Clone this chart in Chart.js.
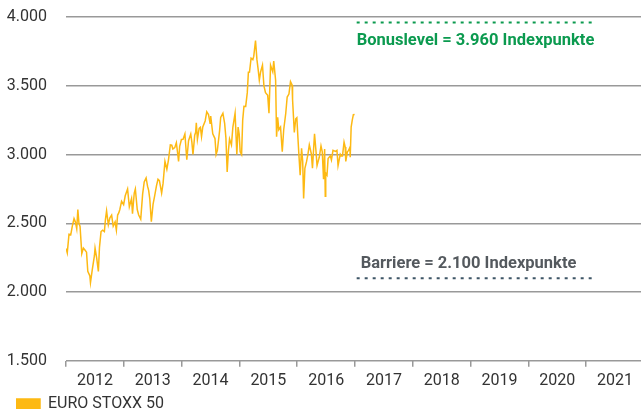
<!DOCTYPE html>
<html>
<head>
<meta charset="utf-8">
<script src="https://cdn.jsdelivr.net/npm/chart.js@4.4.1/dist/chart.umd.min.js"></script>
<style>
  html, body { margin: 0; padding: 0; background: #fff; }
  canvas { display: block; }
</style>
</head>
<body>
<canvas id="chart" width="641" height="409"></canvas>
<script>
// EURO STOXX 50, Schlusskurse 2012-2016
const dates = [
  "2012-01-02","2012-01-09","2012-01-20","2012-01-31","2012-02-10","2012-02-21","2012-02-29",
  "2012-03-09","2012-03-16","2012-03-23","2012-03-30","2012-04-10","2012-04-20","2012-04-30",
  "2012-05-10","2012-05-18","2012-05-31","2012-06-04","2012-06-15","2012-06-29","2012-07-03",
  "2012-07-13","2012-07-24","2012-07-31","2012-08-10","2012-08-20","2012-08-31","2012-09-07",
  "2012-09-14","2012-09-25","2012-10-05","2012-10-16","2012-10-26","2012-11-07","2012-11-15",
  "2012-11-23","2012-11-30","2012-12-07","2012-12-18","2012-12-31",
  "2013-01-10","2013-01-25","2013-02-05","2013-02-19","2013-02-25","2013-03-08","2013-03-15",
  "2013-03-27","2013-04-05","2013-04-18","2013-04-30","2013-05-10","2013-05-22","2013-05-31",
  "2013-06-07","2013-06-14","2013-06-24","2013-07-05","2013-07-15","2013-07-26","2013-08-05",
  "2013-08-14","2013-08-28","2013-09-06","2013-09-18","2013-09-30","2013-10-10","2013-10-22",
  "2013-10-31","2013-11-07","2013-11-19","2013-11-29","2013-12-06","2013-12-13","2013-12-20",
  "2013-12-31",
  "2014-01-10","2014-01-22","2014-02-03","2014-02-14","2014-02-28","2014-03-07","2014-03-14",
  "2014-03-25","2014-03-31","2014-04-04","2014-04-11","2014-04-22","2014-04-30","2014-05-07",
  "2014-05-15","2014-05-30","2014-06-09","2014-06-20","2014-06-30","2014-07-04","2014-07-17",
  "2014-07-31","2014-08-07","2014-08-15","2014-08-29","2014-09-05","2014-09-19","2014-09-30",
  "2014-10-08","2014-10-16","2014-10-24","2014-10-31","2014-11-12","2014-11-21","2014-11-28",
  "2014-12-05","2014-12-16","2014-12-24","2014-12-31",
  "2015-01-06","2015-01-15","2015-01-22","2015-01-30","2015-02-10","2015-02-20","2015-02-27",
  "2015-03-06","2015-03-16","2015-03-27","2015-04-02","2015-04-13","2015-04-22","2015-04-30",
  "2015-05-07","2015-05-15","2015-05-27","2015-06-05","2015-06-15","2015-06-29","2015-07-07",
  "2015-07-17","2015-07-31","2015-08-06","2015-08-18","2015-08-24","2015-08-31","2015-09-07",
  "2015-09-18","2015-09-29","2015-10-08","2015-10-21","2015-10-30","2015-11-10","2015-11-20",
  "2015-11-30","2015-12-03","2015-12-14","2015-12-23","2015-12-30",
  "2016-01-05","2016-01-12","2016-01-20","2016-01-29","2016-02-05","2016-02-11","2016-02-19",
  "2016-02-29","2016-03-09","2016-03-18","2016-03-31","2016-04-07","2016-04-20","2016-04-29",
  "2016-05-06","2016-05-13","2016-05-20","2016-05-31","2016-06-08","2016-06-16","2016-06-23",
  "2016-06-27","2016-06-30","2016-07-08","2016-07-15","2016-07-29","2016-08-05","2016-08-15",
  "2016-08-31","2016-09-09","2016-09-16","2016-09-30","2016-10-07","2016-10-14","2016-10-24",
  "2016-10-31","2016-11-04","2016-11-14","2016-11-22","2016-11-30","2016-12-02","2016-12-08",
  "2016-12-15","2016-12-22","2016-12-30"
];
const stoxx = [
  2316,2285,2420,2416,2480,2535,2512,
  2460,2600,2500,2477,2280,2320,2306,
  2290,2150,2118,2068,2160,2264,2320,
  2250,2150,2325,2440,2450,2440,2530,
  2590,2490,2540,2560,2480,2510,2450,
  2560,2575,2600,2660,2636,
  2700,2750,2620,2680,2570,2720,2750,
  2600,2560,2530,2712,2800,2830,2770,
  2740,2680,2511,2640,2700,2770,2820,
  2810,2720,2790,2950,2893,2960,3070,
  3068,3040,3050,3086,3020,2950,3060,
  3109,
  3110,3150,2962,3100,3149,3090,3000,
  3140,3162,3230,3110,3190,3198,3130,
  3200,3244,3310,3290,3228,3280,3150,
  3116,3000,3030,3172,3270,3300,3226,
  3120,2874,3030,3113,3070,3200,3250,
  3300,3000,3200,3146,
  3020,3000,3250,3351,3350,3450,3599,
  3600,3700,3690,3715,3829,3690,3616,
  3540,3600,3650,3500,3450,3430,3300,
  3650,3601,3680,3540,3130,3270,3180,
  3200,3020,3180,3300,3418,3440,3530,
  3506,3400,3160,3260,3268,
  3140,3000,2850,3045,2950,2680,2900,
  2946,3000,3070,3004,2900,3150,3028,
  2920,2950,2980,3063,3020,2820,3040,
  2697,2865,2850,2970,2990,2960,3030,
  3023,3030,2920,3002,2990,2990,3090,
  3055,2950,3020,3030,3052,2980,3200,
  3250,3290,3291
];

const years = [2012, 2013, 2014, 2015, 2016, 2017, 2018, 2019, 2020, 2021];
const yTicks = [1500, 2000, 2500, 3000, 3500, 4000];

const bonusLevel = 3960;
const barrier = 2100;
const levelFrom = 2017.03;
const levelTo = 2021.12;
const bonusText = "Bonuslevel = 3.960 Indexpunkte";
const barrierText = "Barriere = 2.100 Indexpunkte";

function toYear(d) {
  const [y, m, dd] = d.split("-").map(Number);
  const start = Date.UTC(y, 0, 1), end = Date.UTC(y + 1, 0, 1);
  return y + (Date.UTC(y, m - 1, dd) - start) / (end - start);
}

const fmt = v => v.toLocaleString("de-DE");

// Beschriftung der beiden Schwellen + Legende etwas einrücken
const levelLabels = {
  id: "levelLabels",
  afterLayout(chart) {
    chart.legend.left += 12;
  },
  afterDatasetsDraw(chart) {
    const { ctx, scales: { x, y } } = chart;
    ctx.save();
    ctx.font = "bold 16.5px Roboto";
    ctx.textBaseline = "middle";
    ctx.fillStyle = "#0b9a4f";
    ctx.fillText(bonusText, x.getPixelForValue(levelFrom), y.getPixelForValue(bonusLevel) + 18);
    ctx.fillStyle = "#54595e";
    ctx.fillText(barrierText, x.getPixelForValue(levelFrom) + 4, y.getPixelForValue(barrier) - 14);
    ctx.restore();
  }
};

Chart.defaults.font.family = "Roboto";
Chart.defaults.font.size = 16;
Chart.defaults.color = "#333";

new Chart(document.getElementById("chart"), {
  type: "line",
  data: {
    datasets: [{
      label: "EURO STOXX 50",
      data: dates.map((d, i) => ({ x: toYear(d), y: stoxx[i] })),
      borderColor: "#fdb913",
      backgroundColor: "#fdb913",
      borderWidth: 1.5,
      pointRadius: 0,
      tension: 0
    }, {
      label: "bonus",
      data: [{ x: levelFrom, y: bonusLevel }, { x: levelTo, y: bonusLevel }],
      borderColor: "#0b9a4f",
      borderWidth: 2,
      borderDash: [3, 5],
      pointRadius: 0
    }, {
      label: "barrier",
      data: [{ x: levelFrom, y: barrier }, { x: levelTo, y: barrier }],
      borderColor: "#3e5566",
      borderWidth: 2,
      borderDash: [3, 5],
      pointRadius: 0
    }]
  },
  options: {
    responsive: false,
    animation: false,
    layout: { padding: { left: 4, top: 17, right: 0, bottom: -13 } },
    scales: {
      x: {
        type: "linear",
        min: 2012,
        max: 2021.95,
        afterBuildTicks: s => { s.ticks = years.map(v => ({ value: v })); },
        ticks: {
          callback: v => String(v),
          labelOffset: 29,
          padding: 5,
          maxRotation: 0,
          autoSkip: false
        },
        grid: { drawOnChartArea: false, tickLength: 6, color: "#999", lineWidth: 1.5 },
        border: { display: false }
      },
      y: {
        min: 1500,
        max: 4000,
        afterBuildTicks: s => { s.ticks = yTicks.map(v => ({ value: v })); },
        afterFit: s => { s.width = 62; },
        ticks: { callback: v => fmt(v), padding: 0 },
        grid: { drawTicks: true, tickLength: 19, tickColor: "rgba(0,0,0,0)", color: "#999", lineWidth: 1.5 },
        border: { display: false }
      }
    },
    plugins: {
      legend: {
        position: "bottom",
        align: "start",
        labels: {
          boxWidth: 24,
          boxHeight: 10,
          padding: 0,
          filter: item => item.datasetIndex === 0
        }
      },
      tooltip: { enabled: false }
    }
  },
  plugins: [levelLabels]
});
</script>
</body>
</html>
